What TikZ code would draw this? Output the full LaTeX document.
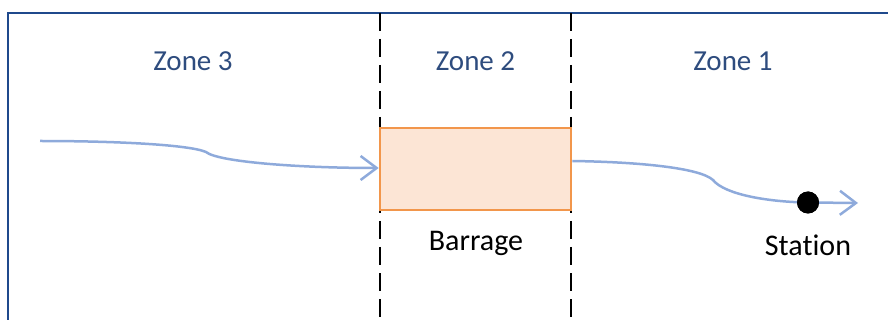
\documentclass[tikz,border=0pt]{standalone}
\usepackage{fontspec}
\setmainfont[Ligatures=NoCommon]{Carlito}
\usetikzlibrary{arrows.meta}
\definecolor{zoneblue}{RGB}{46,76,126}
\definecolor{framebl}{RGB}{31,73,140}
\definecolor{flowbl}{RGB}{142,170,219}
\definecolor{boxedge}{RGB}{242,150,75}
\definecolor{boxfill}{RGB}{252,229,213}
\tikzset{
  zonelbl/.style={text=zoneblue, font=\fontsize{29}{32}\selectfont, inner sep=0pt},
  blacklbl/.style={text=black, font=\fontsize{30}{33}\selectfont, inner sep=0pt},
  divider/.style={draw=black, line width=2.6pt, dash pattern=on 18pt off 8pt},
  flow/.style={draw=flowbl, line width=2.5pt, -{Straight Barb[length=16pt,width=24pt,line width=2.5pt]}},
  barragebox/.style={draw=boxedge, line width=2.6pt, fill=boxfill, minimum width=191pt, minimum height=82pt, inner sep=0pt},
  stationdot/.style={circle, fill=black, minimum size=22pt, inner sep=0pt}
}
\begin{document}
\begin{tikzpicture}[x=1pt,y=-1pt]
\useasboundingbox (0,0) rectangle (888,320);
% frame
\coordinate (fl) at (8,320);
\coordinate (ftl) at (8,13);
\coordinate (ftr) at (888,13);
\draw[framebl, line width=2pt] (fl) -- (ftl) -- (ftr);
% dividers
\coordinate (d1t) at (380,13);
\coordinate (d1b) at (380,320);
\coordinate (d2t) at (571,13);
\coordinate (d2b) at (571,320);
\draw[divider] (d1t) -- (d1b);
\draw[divider] (d2t) -- (d2b);
% box
\node[barragebox] (barrage) at (475.5,169) {};
% zone labels
\node[zonelbl] (z3) at (193,61) {Zone 3};
\node[zonelbl] (z2) at (475.5,61) {Zone 2};
\node[zonelbl] (z1) at (733,61) {Zone 1};
% flows
\coordinate (s3) at (40,141);
\coordinate (e1) at (858,203);
\draw[flow] (s3) .. controls (120,141) and (190,145) .. (206,152)
  .. controls (218,162) and (300,168) .. (barrage.west |- 0,168);
\node[stationdot] (station) at (808,202.5) {};
\draw[flow] (barrage.east |- 0,161) .. controls (640,162) and (700,168) .. (713,180)
  .. controls (725,195) and (770,202) .. (station.center) -- (e1);
\node[stationdot] at (station) {};
% labels
\node[blacklbl] (blbl) at (476,243) {Barrage};
\node[blacklbl] (slbl) at (808,245) {Station};
\end{tikzpicture}
\end{document}
